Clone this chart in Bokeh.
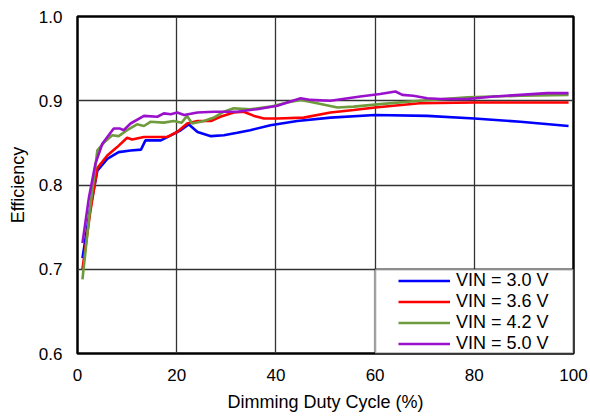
from bokeh.plotting import figure
from bokeh.models import Legend, LegendItem, BoxAnnotation, FixedTicker, Range1d
from bokeh.embed import file_html
from bokeh.resources import INLINE

# ---- data ----
x_ticks = [0, 20, 40, 60, 80, 100]
x_tick_labels = ["0", "20", "40", "60", "80", "100"]
y_ticks = [0.6, 0.7, 0.8, 0.9, 1.0]
y_tick_labels = ["0.6", "0.7", "0.8", "0.9", "1.0"]

series_names = ["VIN = 3.0 V", "VIN = 3.6 V", "VIN = 4.2 V", "VIN = 5.0 V"]
series_colors = ["#0000FF", "#FF0000", "#6E9B3C", "#9A10CC"]

x_30 = [1, 2.5, 4, 6, 8.3, 10.7, 12.8, 13.7, 16.8, 18.8, 20.8, 22.4, 24.2, 26.9,
        29.5, 32.2, 34.8, 38.9, 44.3, 51, 60, 70.5, 80, 89.3, 99]
y_30 = [0.713, 0.770, 0.817, 0.831, 0.839, 0.841, 0.842, 0.853, 0.853, 0.859,
        0.865, 0.872, 0.863, 0.858, 0.859, 0.862, 0.865, 0.871, 0.876, 0.880,
        0.883, 0.882, 0.879, 0.875, 0.870]

x_36 = [1, 2.5, 4, 6, 8, 10, 11, 13.4, 16.1, 18.1, 20.1, 22.1, 24.2, 26.9, 28.8,
        31.5, 33.5, 35.6, 37.6, 40.3, 45.6, 51, 55.7, 60, 69, 80, 99]
y_36 = [0.700, 0.765, 0.820, 0.835, 0.845, 0.856, 0.854, 0.857, 0.857, 0.857,
        0.863, 0.873, 0.876, 0.876, 0.881, 0.886, 0.887, 0.882, 0.879, 0.879,
        0.880, 0.886, 0.889, 0.892, 0.897, 0.898, 0.898]

x_42 = [1, 2.5, 4, 5.3, 7, 8.3, 10, 12, 13.4, 14.7, 17.4, 19.4, 21, 22.1, 23.1,
        25.5, 27.5, 29.5, 31.5, 34.8, 38.9, 42.3, 45, 48.3, 52.4, 55.7, 61, 69,
        78.6, 89.3, 99]
y_42 = [0.688, 0.770, 0.841, 0.850, 0.859, 0.858, 0.865, 0.872, 0.870, 0.875,
        0.874, 0.876, 0.874, 0.882, 0.873, 0.876, 0.880, 0.887, 0.891, 0.890,
        0.893, 0.898, 0.901, 0.897, 0.892, 0.893, 0.896, 0.900, 0.904, 0.906,
        0.907]

x_50 = [1, 2.3, 3.6, 5, 7.3, 8.6, 9.3, 10.7, 13.4, 16.1, 17.4, 18.8, 20.1, 21.5,
        24.2, 27.5, 32.2, 36.2, 40.3, 42.9, 45, 47, 51, 57, 61, 64.1, 65.5, 67.7,
        70.5, 73.2, 78.6, 84, 89.3, 94.7, 99]
y_50 = [0.731, 0.785, 0.825, 0.849, 0.867, 0.867, 0.865, 0.873, 0.882, 0.881,
        0.885, 0.884, 0.886, 0.883, 0.886, 0.887, 0.887, 0.890, 0.894, 0.899,
        0.903, 0.901, 0.900, 0.905, 0.908, 0.911, 0.907, 0.906, 0.903, 0.902,
        0.902, 0.905, 0.907, 0.909, 0.909]

series_x = [x_30, x_36, x_42, x_50]
series_y = [y_30, y_36, y_42, y_50]

FONT = "Liberation Sans"

p = figure(width=590, height=417, x_range=Range1d(0, 100), y_range=Range1d(0.6, 1.0),
           output_backend="svg", toolbar_location=None,
           min_border_left=77, min_border_right=17, min_border_top=16, min_border_bottom=64)

p.background_fill_color = "white"
p.border_fill_color = "white"
p.outline_line_color = "black"
p.outline_line_width = 2.5

p.xaxis.ticker = FixedTicker(ticks=x_ticks)
p.yaxis.ticker = FixedTicker(ticks=y_ticks)
p.xaxis.major_label_overrides = {t: l for t, l in zip(x_ticks, x_tick_labels)}
p.yaxis.major_label_overrides = {t: l for t, l in zip(y_ticks, y_tick_labels)}

p.xaxis.axis_label = "Dimming Duty Cycle (%)"
p.yaxis.axis_label = "Efficiency"
for ax in (p.xaxis, p.yaxis):
    ax.axis_line_color = None
    ax.major_tick_line_color = None
    ax.minor_tick_line_color = None
    ax.major_tick_in = 0
    ax.major_tick_out = 0
    ax.major_label_text_font = FONT
    ax.major_label_text_font_size = "17px"
    ax.major_label_text_color = "black"
    ax.axis_label_text_font = FONT
    ax.axis_label_text_font_size = "18px"
    ax.axis_label_text_font_style = "normal"
    ax.axis_label_text_color = "black"
p.xaxis.major_label_standoff = 15
p.xaxis.axis_label_standoff = 8
p.yaxis.major_label_standoff = 15
p.yaxis.axis_label_standoff = 8

p.grid.grid_line_color = "#333333"
p.grid.grid_line_width = 1.3
p.grid.grid_line_alpha = 1.0

items = []
for name, color, xs, ys in zip(series_names, series_colors, series_x, series_y):
    r = p.line(xs, ys, line_color=color, line_width=2.6)
    items.append(LegendItem(label=name, renderers=[r]))

box = BoxAnnotation(left=60, right=100, bottom=0.6, top=0.7,
                    fill_color="white", fill_alpha=1.0,
                    line_color="black", line_width=2.5)
p.add_layout(box)

legend = Legend(items=items, location=(321, -1))
legend.background_fill_alpha = 0
legend.border_line_color = None
legend.padding = 0
legend.margin = 0
legend.spacing = 0
legend.glyph_width = 52
legend.glyph_height = 21
legend.label_height = 21
legend.label_standoff = 6
legend.label_text_font = FONT
legend.label_text_font_size = "18px"
legend.label_text_color = "black"
p.add_layout(legend)

open("out.html", "w").write(file_html(p, INLINE))
